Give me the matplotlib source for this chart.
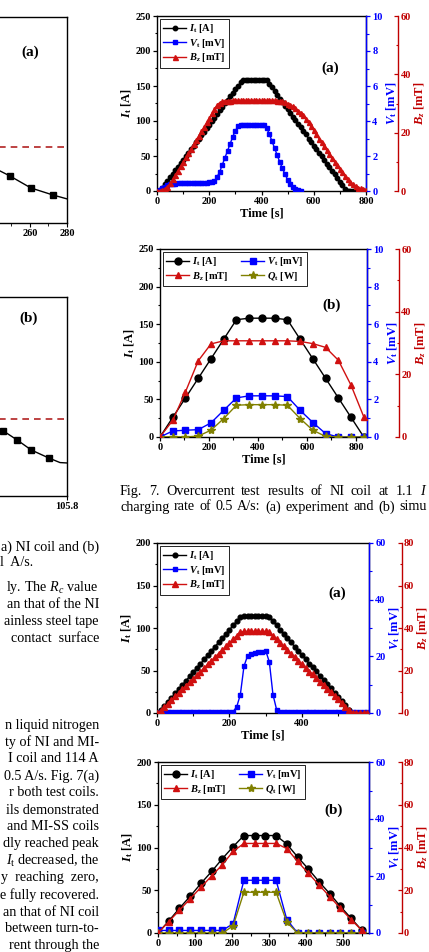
import matplotlib
matplotlib.use('Agg')
import matplotlib.pyplot as plt
from matplotlib.ticker import MultipleLocator

plt.rcParams['font.family'] = ['Liberation Serif', 'DejaVu Serif']
plt.rcParams['mathtext.fontset'] = 'custom'
plt.rcParams['mathtext.rm'] = 'Liberation Serif'
plt.rcParams['mathtext.it'] = 'Liberation Serif:italic'
plt.rcParams['mathtext.bf'] = 'Liberation Serif:bold'
plt.rcParams['mathtext.bfit'] = 'Liberation Serif:italic:bold'

# ---------------- data ----------------
# Fig.7(a) experiment
t7a = [0, 10, 20, 30, 40, 50, 60, 70, 80, 90, 100, 110, 120, 130, 140, 150, 160, 170, 180, 190,
       200, 210, 220, 230, 240, 250, 260, 270, 280, 290, 300, 310, 320, 330, 340, 350, 360, 370, 380, 390,
       400, 410, 420, 430, 440, 450, 460, 470, 480, 490, 500, 510, 520, 530, 540, 550, 560, 570, 580, 590,
       600, 610, 620, 630, 640, 650, 660, 670, 680, 690, 700, 710, 720, 730, 740, 750, 760, 770, 780, 790, 800]
I7a = [0, 0, 5, 10, 15, 20, 25, 30, 35, 40, 45, 50, 55, 60, 65, 70, 75, 80, 85, 90,
       95, 100, 105, 110, 115, 120, 125, 130, 135, 140, 145, 150, 155, 158, 158, 158, 158, 158, 158, 158,
       158, 158, 158, 153, 148, 143, 137, 132, 127, 122, 117, 112, 106, 101, 96, 91, 86, 81, 75, 70,
       65, 60, 55, 50, 44, 39, 34, 29, 24, 19, 13, 8, 3, 0, 0, 0, 0, 0, 0, 0, 0]
V7a = [0, 0.05, 0.15, 0.25, 0.32, 0.38, 0.40, 0.42, 0.43, 0.44, 0.45, 0.45, 0.46, 0.46, 0.46, 0.47, 0.47, 0.47, 0.48, 0.48,
       0.49, 0.50, 0.55, 0.80, 1.10, 1.50, 1.90, 2.30, 2.70, 3.10, 3.45, 3.70, 3.78, 3.78, 3.78, 3.78, 3.78, 3.78, 3.78, 3.78,
       3.78, 3.78, 3.60, 3.25, 2.85, 2.45, 2.05, 1.65, 1.30, 0.95, 0.65, 0.40, 0.22, 0.10, 0.03, 0.0]
B7a = [0, 0, 0.3, 0.8, 1.5, 2.6, 4.0, 5.5, 7.0, 8.5, 10.0, 11.5, 13.0, 14.5, 16.0, 17.5, 19.0, 20.5, 22.0, 23.5,
       25.0, 26.6, 28.2, 29.5, 30.3, 30.7, 30.9, 31.0, 31.0, 31.1, 31.1, 31.1, 31.1, 31.1, 31.1, 31.1, 31.1, 31.1, 31.1, 31.1,
       31.1, 31.1, 31.1, 31.1, 31.1, 31.1, 31.0, 30.9, 30.7, 30.4, 30.0, 29.6, 29.0, 28.3, 27.6, 26.9, 26.0, 24.8, 23.5, 22.2,
       20.8, 19.4, 18.0, 16.7, 15.4, 14.0, 12.7, 11.4, 10.1, 8.9, 7.7, 6.5, 5.3, 4.2, 3.2, 2.4, 1.7, 1.2, 0.9, 0.7, 0.5]

# Fig.7(b) simulation
t7b = [0, 52, 104, 156, 208, 260, 312, 364, 416, 468, 520, 572, 624, 676, 728, 780, 832]
I7b = [0, 26, 52, 78, 104, 130, 156, 158, 158, 158, 156, 130, 104, 78, 52, 26, 0]
B7b = [0, 5.3, 14.4, 24.3, 29.7, 30.7, 30.7, 30.7, 30.7, 30.7, 30.7, 30.5, 29.8, 28.6, 24.5, 16.5, 6.4]
V7b = [0, 0.32, 0.36, 0.39, 0.75, 1.42, 2.08, 2.19, 2.19, 2.19, 2.15, 1.42, 0.77, 0.18, 0, 0, 0]
Q7b = [0, 0.02, 0.0, 0.05, 0.36, 0.98, 1.69, 1.72, 1.72, 1.72, 1.69, 0.98, 0.36, 0.03, 0, 0, 0]

# Fig.8(a) experiment
t8a = [0, 10, 20, 30, 40, 50, 60, 70, 80, 90, 100, 110, 120, 130, 140, 150, 160, 170, 180, 190,
       200, 210, 220, 230, 240, 250, 260, 270, 280, 290, 300, 310, 320, 330, 340, 350, 360, 370, 380, 390,
       400, 410, 420, 430, 440, 450, 460, 470, 480, 490, 500, 510, 520, 530, 540, 550, 560, 570, 580]
I8a = [0, 3, 8, 13, 18, 23, 28, 33, 38, 43, 48, 53, 58, 63, 68, 73, 78, 83, 88, 93,
       98, 103, 108, 113, 114, 114, 114, 114, 114, 114, 114, 113, 108, 103, 98, 93, 88, 83, 78, 73,
       68, 63, 58, 54, 49, 44, 39, 34, 29, 24, 19, 14, 9, 4, 0, 0, 0, 0, 0]
B8a = [0, 1.0, 2.7, 4.4, 6.1, 7.8, 9.4, 11.1, 12.8, 14.5, 16.2, 17.9, 19.5, 21.2, 22.9, 24.6, 26.3, 28.0, 29.7, 31.3,
       33.0, 34.7, 36.4, 38.1, 38.4, 38.4, 38.4, 38.4, 38.4, 38.4, 38.4, 38.1, 36.4, 34.7, 33.0, 31.3, 29.7, 28.0, 26.3, 24.6,
       22.9, 21.2, 19.5, 18.2, 16.5, 14.8, 13.1, 11.5, 9.8, 8.1, 6.4, 4.7, 3.0, 1.3, 0, 0, 0, 0, 0]
V8a = [0, 0.3, 0.5, 0.5, 0.5, 0.5, 0.5, 0.5, 0.5, 0.5, 0.5, 0.5, 0.5, 0.5, 0.5, 0.5, 0.5, 0.5, 0.5, 0.5,
       0.5, 0.5, 2.2, 6.5, 16.5, 20.2, 20.8, 21.1, 21.4, 21.7, 22.0, 18.0, 6.5, 1.2, 0.3, 0.2, 0.2, 0.2, 0.2, 0.2,
       0.2, 0.2, 0.2, 0.2, 0.2, 0.2, 0.2, 0.2, 0.2, 0.2, 0.2, 0.2, 0.2, 0.2, 0.2, 0.2, 0.2, 0.2, 0.2]

# Fig.8(b) simulation
t8b = [0, 29, 58, 87, 116, 145, 174, 203, 232, 261, 290, 319, 348, 377, 406, 435, 464, 493, 522, 551]
I8b = [0, 14, 29, 43, 58, 72, 87, 101, 114, 114, 114, 114, 104, 89, 75, 60, 46, 31, 17, 3]
B8b = [0, 5.3, 10.7, 16.0, 21.4, 26.7, 32.0, 38.2, 41.9, 41.9, 41.9, 41.9, 39.5, 33.5, 28.0, 22.5, 17.0, 11.5, 6.2, 1.2]
V8b = [0.9, 0.9, 0.9, 0.9, 0.9, 0.9, 0.9, 3.3, 18.5, 18.5, 18.5, 18.5, 4.7, 0, 0, 0, 0, 0, 0, 0]
Q8b = [0, 0, 0, 0, 0, 0, 0, 2.5, 14.3, 14.3, 14.3, 14.3, 3.8, 0, 0, 0, 0, 0, 0, 0]

# left partial figure (a) and (b)
xa_pts = [249.2, 260.5, 272.4]
ya_pts = [22.8, 17.0, 13.6]
xa_line = [240.0, 249.2, 260.5, 272.4, 280.0]
ya_line = [27.0, 22.8, 17.0, 13.6, 11.7]
ya_ref = 36.9
xb_pts = [105.709, 105.729, 105.749, 105.774]
yb_pts = [32.7, 28.1, 23.1, 19.1]
xb_line = [105.70, 105.709, 105.729, 105.749, 105.774, 105.79, 105.80]
yb_line = [34.2, 32.7, 28.1, 23.1, 19.1, 16.8, 16.6]
yb_ref = 38.7

# ---------------- figure ----------------
W, H = 429, 952
fig = plt.figure(figsize=(W / 100, H / 100), dpi=100)

BLUE = '#0000ff'
RED = '#d01010'
DRED = '#c00000'
OLIVE = '#808000'
TICKFS = 7.5


def px_axes(l, t, r, b):
    return fig.add_axes([l / W, 1 - b / H, (r - l) / W, (b - t) / H])


def style_main(ax, xmax, ymax, xmajor, ymajor, xlabel=True):
    ax.set_xlim(0, xmax)
    ax.set_ylim(0, ymax)
    ax.xaxis.set_major_locator(MultipleLocator(xmajor))
    ax.xaxis.set_minor_locator(MultipleLocator(xmajor / 2))
    ax.yaxis.set_major_locator(MultipleLocator(ymajor))
    ax.yaxis.set_minor_locator(MultipleLocator(ymajor / 2))
    ax.tick_params(which='major', direction='out', length=3, width=0.9, labelsize=TICKFS, pad=1.5)
    ax.tick_params(which='minor', direction='out', length=1.8, width=0.8)
    for lab in ax.get_xticklabels() + ax.get_yticklabels():
        lab.set_fontweight('bold')
    for s in ax.spines.values():
        s.set_linewidth(1.0)
    ax.set_ylabel(r'$\mathbfit{I}_{\mathbf{t}}$ [A]', fontsize=9, fontweight='bold', labelpad=1)
    if xlabel:
        ax.set_xlabel('Time [s]', fontsize=9, fontweight='bold', labelpad=1)


def make_twin(ax, ymax, ymajor, color, label, offset, direction):
    tw = ax.twinx()
    tw.set_ylim(0, ymax)
    tw.yaxis.set_major_locator(MultipleLocator(ymajor))
    tw.yaxis.set_minor_locator(MultipleLocator(ymajor / 2))
    if offset is not None:
        tw.spines['right'].set_position(('axes', offset))
    tw.spines['right'].set_color(color)
    tw.spines['right'].set_linewidth(1.0)
    for k in ('left', 'top', 'bottom'):
        tw.spines[k].set_visible(False)
    tw.tick_params(axis='y', which='major', colors=color, direction=direction, length=3, width=0.9,
                   labelsize=TICKFS, pad=1.5)
    tw.tick_params(axis='y', which='minor', colors=color, direction=direction, length=1.8, width=0.8)
    for lab in tw.get_yticklabels():
        lab.set_fontweight('bold')
    tw.set_ylabel(label, fontsize=9, fontweight='bold', color=color, labelpad=1)
    return tw


LBL_I = r'$\mathbfit{I}_{\mathbf{t}}$ [A]'
LBL_V = r'$\mathbfit{V}_{\mathbf{t}}$ [mV]'
LBL_B = r'$\mathbfit{B}_{\mathbfit{z}}$ [mT]'
LBL_Q = r'$\mathbfit{Q}_{\mathbf{t}}$ [W]'


def legend(ax, handles, ncol):
    leg = ax.legend(handles=handles, loc='upper left', ncol=ncol, frameon=True, fancybox=False,
                    edgecolor='black', framealpha=1, handlelength=2.2, handletextpad=0.3,
                    borderpad=0.3, labelspacing=0.15, columnspacing=1.2, borderaxespad=0.3,
                    prop={'weight': 'bold', 'size': 7.5})
    leg.get_frame().set_linewidth(0.6)
    return leg


def panel_label(ax, s, fx, fy):
    ax.text(fx, fy, s, transform=ax.transAxes, fontsize=11, fontweight='bold', ha='center', va='center',
            zorder=10)


# ---- Fig 7(a)
ax = px_axes(157, 16, 366, 191)
style_main(ax, 800, 250, 200, 50)
tv = make_twin(ax, 10, 2, BLUE, LBL_V, None, 'out')
tb = make_twin(ax, 60, 20, DRED, LBL_B, 1.155, 'in')
h1, = ax.plot(t7a, I7a, '-o', color='black', ms=3.2, lw=1.0, label=LBL_I, zorder=3)
h2, = tv.plot(t7a[:len(V7a)], V7a, '-s', color=BLUE, ms=3.2, lw=1.0, label=LBL_V)
h3, = tb.plot(t7a, B7a, '-^', color=RED, ms=3.6, lw=1.0, label=LBL_B)
legend(tb, [h1, h2, h3], 1)
panel_label(tb, '(a)', 0.83, 0.70)

# ---- Fig 7(b)
ax = px_axes(160, 249, 367, 437)
style_main(ax, 845, 250, 200, 50)
tv = make_twin(ax, 10, 2, BLUE, LBL_V, None, 'out')
tb = make_twin(ax, 60, 20, DRED, LBL_B, 1.155, 'in')
h1, = ax.plot(t7b, I7b, '-o', color='black', ms=5, lw=1.0, label=LBL_I, zorder=3)
h2, = tv.plot(t7b, V7b, '-s', color=BLUE, ms=4.5, lw=1.0, label=LBL_V)
h4, = tv.plot(t7b, Q7b, '-*', color=OLIVE, ms=6, lw=1.0, label=LBL_Q)
h3, = tb.plot(t7b, B7b, '-^', color=RED, ms=5, lw=1.0, label=LBL_B)
legend(tb, [h1, h3, h2, h4], 2)
panel_label(tb, '(b)', 0.83, 0.70)

# ---- Fig 8(a)
ax = px_axes(157, 543, 369, 713)
style_main(ax, 585, 200, 200, 50)
ax.xaxis.set_minor_locator(MultipleLocator(100))
tv = make_twin(ax, 60, 20, BLUE, LBL_V, None, 'out')
tb = make_twin(ax, 80, 20, DRED, LBL_B, 1.155, 'in')
h1, = ax.plot(t8a, I8a, '-o', color='black', ms=3.4, lw=1.0, label=LBL_I, zorder=3)
h2, = tv.plot(t8a, V8a, '-s', color=BLUE, ms=3.2, lw=1.0, label=LBL_V)
h3, = tb.plot(t8a, B8a, '-^', color=RED, ms=3.8, lw=1.0, label=LBL_B)
legend(tb, [h1, h2, h3], 1)
panel_label(tb, '(a)', 0.85, 0.705)

# ---- Fig 8(b)  (its x-axis title lies below the cropped page edge)
ax = px_axes(158, 762, 369, 933)
style_main(ax, 570, 200, 100, 50, xlabel=False)
ax.xaxis.set_minor_locator(MultipleLocator(50))
tv = make_twin(ax, 60, 20, BLUE, LBL_V, None, 'out')
tb = make_twin(ax, 80, 20, DRED, LBL_B, 1.155, 'in')
h1, = ax.plot(t8b, I8b, '-o', color='black', ms=5, lw=1.0, label=LBL_I, zorder=3)
h2, = tv.plot(t8b, V8b, '-s', color=BLUE, ms=4.5, lw=1.0, label=LBL_V)
h4, = tv.plot(t8b, Q8b, '-*', color=OLIVE, ms=6, lw=1.0, label=LBL_Q)
h3, = tb.plot(t8b, B8b, '-^', color=RED, ms=5, lw=1.0, label=LBL_B)
legend(tb, [h1, h3, h2, h4], 2)
panel_label(tb, '(b)', 0.83, 0.72)

# ---- left partial charts
axa = px_axes(-140, 17, 67, 223)
axa.set_xlim(280 - 207 / 1.85, 280)
axa.set_ylim(0, 100)
axa.plot(xa_line, ya_line, '-', color='black', lw=1.0)
axa.plot(xa_pts, ya_pts, 's', color='black', ms=4.5)
axa.axhline(ya_ref, color='#b22222', lw=1.2, ls=(0, (4, 3)))
axa.set_xticks([260, 280])
axa.set_xticks([250, 270], minor=True)
axa.set_yticks([])
axa.tick_params(which='major', direction='out', length=3, labelsize=TICKFS, pad=1.5)
axa.tick_params(which='minor', direction='out', length=1.8)
for lab in axa.get_xticklabels():
    lab.set_fontweight('bold')

axb = px_axes(-140, 297, 67, 496)
axb.set_xlim(105.8 - 207 / 700, 105.8)
axb.set_ylim(0, 100)
axb.plot(xb_line, yb_line, '-', color='black', lw=1.0)
axb.plot(xb_pts, yb_pts, 's', color='black', ms=4.5)
axb.axhline(yb_ref, color='#b22222', lw=1.2, ls=(0, (4, 3)))
axb.set_xticks([105.8])
axb.set_xticklabels(['105.8'])
axb.set_yticks([])
axb.tick_params(which='major', direction='out', length=3, labelsize=TICKFS, pad=1.5)
for lab in axb.get_xticklabels():
    lab.set_fontweight('bold')

for a in (axa, axb):
    for s in a.spines.values():
        s.set_linewidth(1.0)

fig.text(30 / W, 1 - 52 / H, '(a)', fontsize=11, fontweight='bold', ha='center', va='center')
fig.text(29 / W, 1 - 318 / H, '(b)', fontsize=11, fontweight='bold', ha='center', va='center')

# ---- page text
TXT = 10.2
right_lines = [
    (547, 'a) NI coil and (b)'),
    (587, r'ly. The $\mathit{R}_{\mathit{c}}$ value'),
    (604, 'an that of the NI'),
    (621, 'ainless steel tape'),
    (638, 'contact  surface'),
    (725, 'n liquid nitrogen'),
    (742, 'ty of NI and MI-'),
    (759, 'I coil and 114 A'),
    (776, '0.5 A/s. Fig. 7(a)'),
    (793, 'r both test coils.'),
    (810, 'ils demonstrated'),
    (827, 'and MI-SS coils'),
    (844, 'dly reached peak'),
    (861, r'$\mathit{I}_{\mathrm{t}}$ decreased, the'),
    (878, 'y  reaching  zero,'),
    (895, 'e fully recovered.'),
    (912, 'an that of NI coil'),
    (929, 'between turn-to-'),
    (945, 'rent through the'),
]
for y, s in right_lines:
    fig.text(99 / W, 1 - y / H, s, fontsize=TXT, ha='right', va='center')
fig.text(0 / W, 1 - 563 / H, 'l  A/s.', fontsize=TXT, ha='left', va='center')

# justified caption lines (cropped page: they stop at the right edge)
cap1 = ['Fig.', '7.', 'Overcurrent', 'test', 'results', 'of', 'NI', 'coil', 'at', '1.1', r'$\mathit{I}$']
cap2 = ['charging', 'rate', 'of', '0.5', 'A/s:', '(a)', 'experiment', 'and', '(b)', 'simu']
fig.canvas.draw()
r = fig.canvas.get_renderer()
for words, yy in ((cap1, 491), (cap2, 507)):
    objs = [fig.text(0, 1 - yy / H, w, fontsize=TXT, ha='left', va='center') for w in words]
    widths = [o.get_window_extent(r).width for o in objs]
    x0, x1 = 120, 427
    gap = (x1 - x0 - sum(widths)) / (len(words) - 1)
    x = x0
    for o, wd in zip(objs, widths):
        o.set_x(x / W)
        x += wd + gap

fig.savefig('out.png', dpi=100)
